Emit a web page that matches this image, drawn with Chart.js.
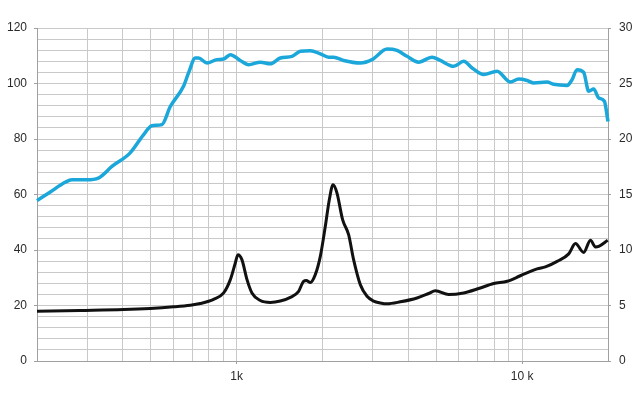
<!DOCTYPE html>
<html>
<head>
<meta charset="utf-8">
<script src="https://cdn.jsdelivr.net/npm/chart.js@4.4.1/dist/chart.umd.min.js"></script>
<style>
  html, body { margin: 0; padding: 0; background: #fff; }
  #wrap { width: 640px; height: 400px; }
</style>
</head>
<body>
<div id="wrap"><canvas id="chart" width="640" height="400"></canvas></div>
<script>
// SPL curve (blue, left axis)
const splFreq = [200, 222, 251, 265, 299, 328, 366, 424, 472, 505, 548, 586, 652, 679, 717, 736, 788, 854, 901, 951,
    1030, 1102, 1211, 1313, 1423, 1564, 1672, 1813, 1965, 2101, 2187, 2371, 2713, 2982, 3366, 3649, 3955, 4343, 4838, 5174,
    5760, 6243, 6683, 7336, 8176, 9100, 9730, 10410, 10980, 12230, 12900, 14380, 14970, 15580, 16440, 17120, 17820, 18560, 19430, 20000];
const splValues = [57.8, 60.8, 64.4, 65.3, 65.3, 65.9, 70.1, 75.0, 81.5, 84.8, 85.2, 91.7, 99.0, 103.8, 109.2, 109.2, 107.4, 108.6, 108.8, 110.4,
    108.3, 106.8, 107.7, 107.1, 109.2, 109.8, 111.6, 111.8, 110.7, 109.5, 109.5, 108.3, 107.4, 108.6, 112.4, 111.9, 109.8, 107.7, 109.5, 108.3,
    106.2, 108.0, 105.6, 103.2, 104.4, 100.5, 101.6, 101.1, 100.2, 100.5, 99.7, 99.3, 101.4, 105.0, 104.0, 97.2, 98.0, 94.8, 93.6, 86.3];

// impedance curve (black, right axis)
const impFreq = [200, 283, 402, 498, 602, 689, 746, 831, 901, 951, 990, 1011, 1044, 1088, 1132, 1211, 1313, 1423, 1543, 1650,
    1717, 1755, 1813, 1887, 1965, 2046, 2113, 2177, 2248, 2352, 2469, 2570, 2713, 2864, 3021, 3188, 3366, 3747, 4287, 4708,
    4971, 5533, 6243, 7047, 7956, 8863, 9865, 11290, 12070, 13270, 14570, 15380, 16440, 17360, 18070, 18560, 19950];
const impValues = [4.48, 4.55, 4.63, 4.73, 4.88, 5.03, 5.18, 5.55, 6.13, 7.33, 8.83, 9.58, 9.13, 7.33, 6.13, 5.45, 5.28, 5.4, 5.73, 6.28,
    7.18, 7.25, 7.08, 7.78, 9.43, 12.13, 14.53, 15.88, 15.13, 12.73, 11.38, 9.13, 6.88, 5.83, 5.4, 5.23, 5.15, 5.33, 5.68, 6.08,
    6.33, 5.98, 6.13, 6.53, 6.98, 7.18, 7.68, 8.3, 8.48, 8.98, 9.65, 10.58, 9.78, 10.88, 10.28, 10.33, 10.88];

// vertical grid lines and the labels shown under them
const gridFreqs = [200, 300, 400, 500, 600, 700, 800, 900, 1000, 2000, 3000, 4000, 5000, 6000, 7000, 8000, 9000, 10000, 20000];
const freqLabels = { 1000: '1k', 10000: '10 k' };

const axisGray = '#a0a0a0';
const gridGray = '#c9c9c9';

Chart.defaults.font.family = '"Liberation Sans", Arial, sans-serif';
Chart.defaults.font.size = 12;
Chart.defaults.color = '#2a2a2a';

new Chart(document.getElementById('chart'), {
    type: 'line',
    data: {
        datasets: [{
            data: splFreq.map((f, i) => ({ x: f, y: splValues[i] })),
            borderColor: '#1ba7da',
            borderWidth: 3.5,
            pointRadius: 0,
            cubicInterpolationMode: 'monotone',
            yAxisID: 'y',
            clip: false
        }, {
            data: impFreq.map((f, i) => ({ x: f, y: impValues[i] })),
            borderColor: '#111',
            borderWidth: 3,
            pointRadius: 0,
            cubicInterpolationMode: 'monotone',
            yAxisID: 'y2',
            clip: false
        }]
    },
    options: {
        responsive: false,
        animation: false,
        layout: { padding: { top: 28, left: 0, right: 0, bottom: 0 } },
        plugins: { legend: { display: false }, tooltip: { enabled: false } },
        scales: {
            x: {
                type: 'logarithmic',
                min: 200,
                max: 20000,
                afterBuildTicks: scale => { scale.ticks = gridFreqs.map(v => ({ value: v })); },
                afterFit: scale => { scale.height = 39; },
                ticks: {
                    autoSkip: false,
                    maxRotation: 0,
                    minRotation: 0,
                    padding: 5,
                    callback: value => freqLabels[value] || ''
                },
                grid: {
                    color: gridGray,
                    lineWidth: 1,
                    tickLength: 3,
                    tickColor: ctx => (ctx.tick && freqLabels[ctx.tick.value] ? axisGray : 'rgba(0,0,0,0)')
                },
                border: { color: axisGray }
            },
            y: {
                position: 'left',
                min: 0,
                max: 120,
                afterFit: scale => { scale.width = 37; },
                ticks: {
                    stepSize: 4,
                    autoSkip: false,
                    padding: 7,
                    callback: value => (value % 20 === 0 ? value : '')
                },
                grid: {
                    color: gridGray,
                    lineWidth: 1,
                    tickLength: 3,
                    tickColor: ctx => (ctx.tick && ctx.tick.value % 20 === 0 ? axisGray : 'rgba(0,0,0,0)')
                },
                border: { color: axisGray }
            },
            y2: {
                position: 'right',
                min: 0,
                max: 30,
                afterFit: scale => { scale.width = 32; },
                ticks: {
                    stepSize: 5,
                    autoSkip: false,
                    padding: 8
                },
                grid: { drawOnChartArea: false, tickLength: 3, tickColor: axisGray },
                border: { color: axisGray }
            }
        }
    }
});
</script>
</body>
</html>
